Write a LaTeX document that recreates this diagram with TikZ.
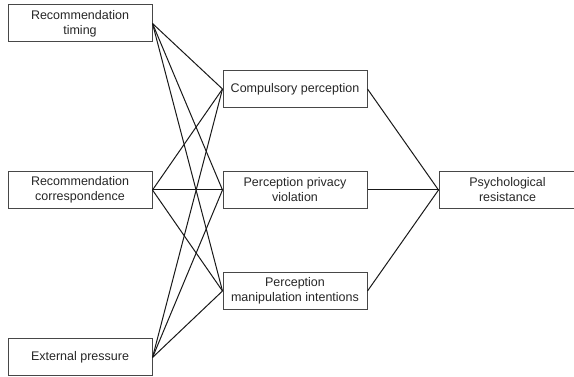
\documentclass[tikz,border=0pt]{standalone}
\usepackage{fontspec}
\setmainfont{Liberation Sans}
\begin{document}
\begin{tikzpicture}[x=1pt,y=-1pt,
  box/.style={draw=black!72, line width=1pt, minimum width=144pt, minimum height=37pt, inner sep=0pt, align=center, font=\fontsize{12.5}{15}\selectfont, text=black!85},
  link/.style={draw=black!90, line width=1pt}]
\useasboundingbox (0,0) rectangle (574,377);
\node[box] (rt) at (80,23.5) {Recommendation\\timing};
\node[box] (rc) at (80,190) {Recommendation\\correspondence};
\node[box] (ep) at (80,357.5) {External pressure};
\node[box] (cp) at (295,89) {Compulsory perception};
\node[box] (pv) at (295,190) {Perception privacy\\violation};
\node[box] (pm) at (295,291) {Perception\\manipulation intentions};
\node[box, minimum width=137pt] (pr) at (507.5,190) {Psychological\\resistance};
\foreach \a in {rt,rc,ep}{
  \foreach \b in {cp,pv,pm}{
    \draw[link] (\a.east) -- (\b.west);
  }
}
\foreach \b in {cp,pv,pm}{
  \draw[link] (\b.east) -- (pr.west);
}
\end{tikzpicture}
\end{document}
